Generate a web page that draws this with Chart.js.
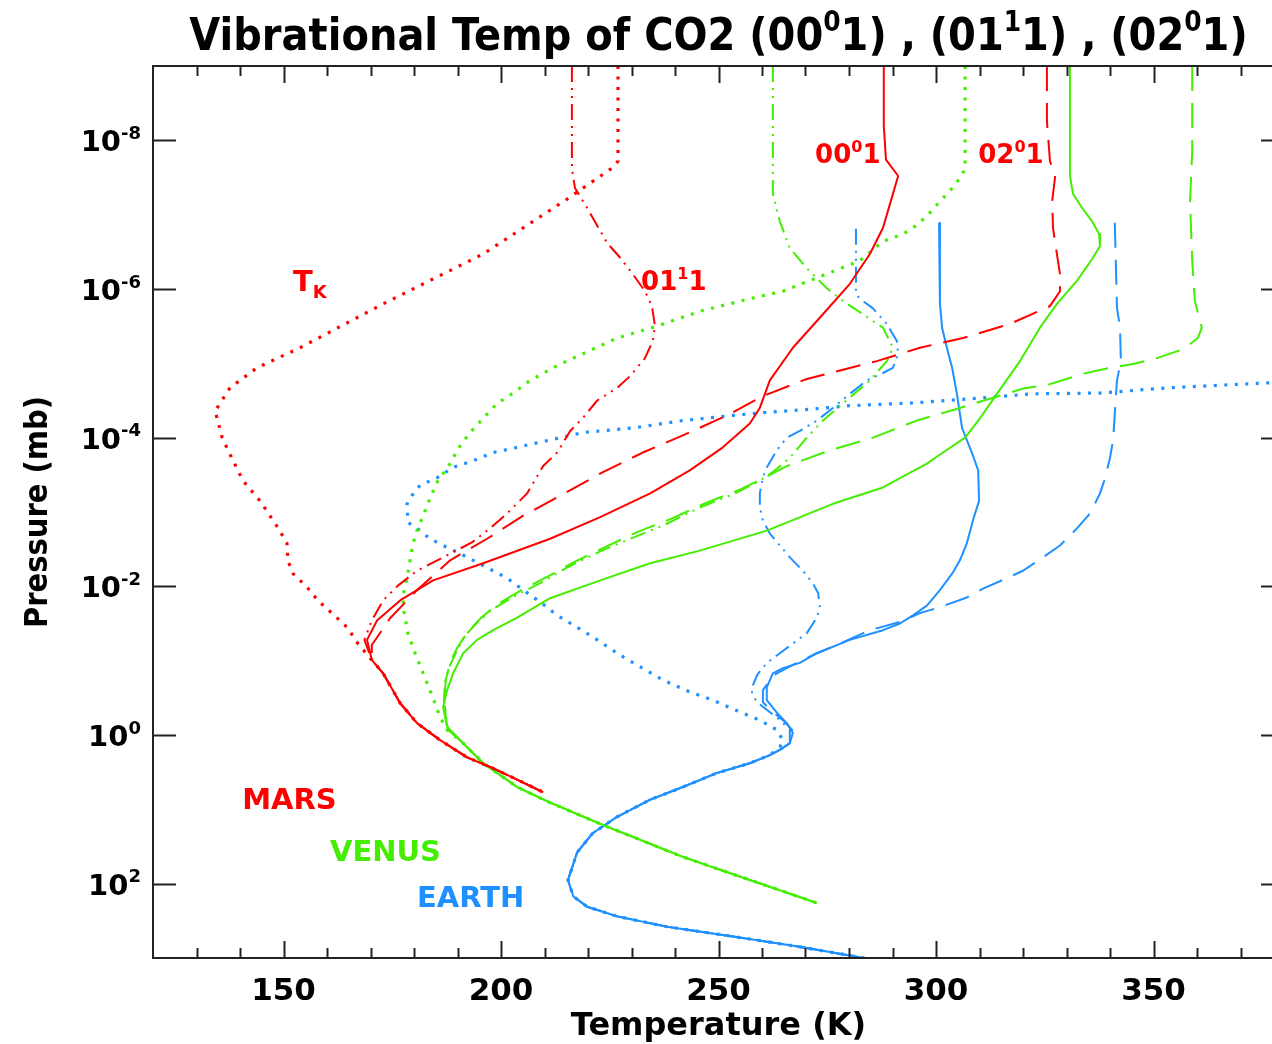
<!DOCTYPE html>
<html>
<head>
<meta charset="utf-8">
<title>Vibrational Temp of CO2</title>
<script src="https://cdn.jsdelivr.net/npm/chart.js@4.4.1/dist/chart.umd.min.js"></script>
<style>
  html, body { margin: 0; padding: 0; background: #fff; overflow: hidden; }
  #wrap { width: 1272px; height: 1044px; overflow: hidden; }
  canvas { display: block; }
</style>
</head>
<body>
<div id="wrap"><canvas id="co2Chart" width="1300" height="1044"></canvas></div>
<script>
// profiles are [temperature K, log10(pressure mb)]
const marsTk = [[226.9,-9],[226.9,-7.72],[225.1,-7.61],[218.9,-7.36],[215.2,-7.21],[195.9,-6.47],[172.9,-5.80],[153.8,-5.21],[143.9,-4.94],[137.7,-4.67],[134.3,-4.36],[135.9,-4.0],[138.4,-3.69],[140.7,-3.42],[144.6,-3.15],[148.7,-2.79],[150.8,-2.58],[151.0,-2.35],[152.2,-2.17],[155.4,-1.99],[157.9,-1.81],[161.1,-1.64],[164.6,-1.45],[167.1,-1.23]];
const mars0001 = [[288.0,-9],[288.0,-8.19],[288.5,-7.74],[291.3,-7.52],[290.1,-7.28],[287.8,-6.82],[284.8,-6.47],[280.2,-6.07],[274.0,-5.66],[267.1,-5.21],[261.8,-4.77],[259.5,-4.40],[257.2,-4.19],[251.0,-3.87],[243.4,-3.56],[234.3,-3.25],[222.8,-2.93],[211.3,-2.64],[195.9,-2.31],[184.4,-2.08],[176.8,-1.81],[171.5,-1.54],[169.2,-1.28]];
const mars0111 = [[216.3,-9],[216.3,-7.62],[217.0,-7.36],[219.8,-7.09],[224.4,-6.62],[227.4,-6.42],[230.3,-6.20],[233.1,-5.97],[234.7,-5.77],[235.4,-5.50],[234.9,-5.30],[233.1,-5.07],[229.7,-4.83],[226.7,-4.67],[222.1,-4.50],[218.9,-4.27],[215.9,-4.09],[212.9,-3.80],[209.7,-3.62],[206.0,-3.25],[201.4,-2.98],[197.5,-2.78],[193.3,-2.59],[186.7,-2.39],[180.7,-2.21],[176.3,-2.01],[172.9,-1.81],[170.3,-1.54],[168.6,-1.28]];
const mars0201 = [[325.5,-9],[325.5,-8.26],[326.2,-7.72],[327.4,-7.52],[326.7,-7.18],[326.9,-6.82],[327.8,-6.47],[328.5,-6.20],[328.5,-5.97],[326.2,-5.77],[317.0,-5.53],[306.2,-5.34],[296.3,-5.21],[286.4,-5.03],[270.3,-4.79],[260.2,-4.56],[252.0,-4.30],[241.8,-4.03],[232.6,-3.80],[223.2,-3.53],[214.0,-3.23],[205.1,-2.95],[196.8,-2.64],[188.3,-2.35],[180.7,-1.95],[174.5,-1.57],[170.3,-1.21]];
const marsLower = [[170.3,-1.01],[172.9,-0.83],[176.8,-0.43],[180.7,-0.16],[186.0,0.07],[192.2,0.30],[197.5,0.43],[203.7,0.60],[209.7,0.77]];

const venusTk = [[306.7,-9],[306.7,-7.62],[305.5,-7.49],[303.2,-7.32],[300.9,-7.18],[297.9,-6.98],[294.7,-6.82],[292.4,-6.74],[287.8,-6.64],[282.5,-6.38],[272.6,-6.15],[264.8,-5.97],[257.2,-5.87],[245.7,-5.70],[235.9,-5.50],[226.7,-5.34],[218.9,-5.13],[213.6,-4.99],[206.7,-4.77],[202.8,-4.60],[199.1,-4.46],[195.9,-4.26],[192.9,-4.07],[190.1,-3.85],[188.3,-3.65],[185.5,-3.42],[183.7,-3.19],[182.1,-2.95],[180.7,-2.75],[179.8,-2.58],[179.1,-2.35],[178.4,-2.11],[177.5,-1.88],[177.5,-1.72],[178.6,-1.37],[180.2,-1.11],[182.1,-0.83],[183.7,-0.60],[184.8,-0.43],[186.0,-0.24],[187.6,-0.07]];
const venus0001 = [[330.8,-9],[330.8,-7.52],[331.5,-7.28],[333.6,-7.09],[335.9,-6.91],[337.5,-6.74],[337.7,-6.58],[336.1,-6.42],[332.4,-6.11],[327.8,-5.80],[323.9,-5.48],[319.3,-5.03],[314.0,-4.59],[310.1,-4.26],[306.7,-4.0],[301.6,-3.80],[297.9,-3.65],[287.8,-3.33],[276.3,-3.11],[261.1,-2.75],[245.7,-2.48],[234.3,-2.31],[222.8,-2.08],[211.3,-1.84],[203.7,-1.58],[198.2,-1.41],[194.5,-1.28],[191.3,-1.10],[189.0,-0.83],[187.6,-0.60],[186.7,-0.38],[187.6,-0.11]];
const venus0111 = [[262.5,-9],[262.5,-7.28],[264.1,-6.91],[266.4,-6.55],[270.3,-6.28],[274.9,-6.01],[278.6,-5.84],[283.2,-5.66],[287.8,-5.48],[290.1,-5.21],[288.7,-5.03],[284.8,-4.77],[278.6,-4.46],[274.0,-4.23],[270.3,-4.0],[266.4,-3.73],[263.0,-3.56],[259.5,-3.42],[253.8,-3.25],[245.7,-3.06],[237.7,-2.83],[229.7,-2.64],[222.8,-2.47],[215.4,-2.26],[209.2,-2.05],[203.2,-1.87],[197.7,-1.68],[194.3,-1.50],[191.5,-1.32],[189.7,-1.11],[188.3,-0.94],[187.1,-0.71],[186.9,-0.47],[187.4,-0.24],[187.8,-0.07]];
const venus0201 = [[358.9,-9],[358.9,-7.85],[358.4,-7.18],[358.9,-6.38],[359.5,-5.84],[360.7,-5.57],[361.1,-5.48],[360.2,-5.34],[356.8,-5.19],[350.8,-5.07],[345.3,-4.99],[339.3,-4.93],[333.8,-4.86],[326.2,-4.72],[320.0,-4.66],[305.5,-4.40],[295.6,-4.23],[285.5,-4.0],[275.6,-3.83],[265.8,-3.62],[261.2,-3.48],[255.3,-3.31],[247.4,-3.13],[239.2,-2.91],[231.3,-2.73],[224.4,-2.54],[216.9,-2.33],[210.7,-2.13],[204.7,-1.95],[199.2,-1.76],[195.5,-1.58],[192.4,-1.39],[190.0,-1.18],[188.3,-0.98],[187.3,-0.74],[187.0,-0.47],[187.3,-0.24],[187.8,-0.07]];
const venusLower = [[191.3,0.11],[195.9,0.38],[203.7,0.70],[211.3,0.91],[223.4,1.21],[241.8,1.64],[257.2,1.95],[272.6,2.26]];

const earthTk = [[381.4,-4.77],[377.2,-4.74],[353.1,-4.67],[337.7,-4.60],[322.3,-4.59],[307.1,-4.52],[295.6,-4.47],[280.2,-4.43],[272.6,-4.39],[261.1,-4.34],[253.3,-4.30],[241.8,-4.23],[230.3,-4.13],[218.9,-4.07],[212.9,-3.99],[208.3,-3.93],[203.7,-3.87],[198.2,-3.80],[193.6,-3.69],[189.0,-3.60],[185.3,-3.46],[181.4,-3.36],[179.5,-3.22],[178.4,-3.11],[178.6,-2.86],[180.7,-2.78],[183.7,-2.64],[186.7,-2.55],[190.6,-2.44],[195.9,-2.28],[201.4,-2.11],[205.1,-1.95],[209.0,-1.79],[212.9,-1.61],[216.6,-1.48],[221.1,-1.32],[226.7,-1.10],[231.3,-0.94],[237.2,-0.74],[243.4,-0.58],[248.7,-0.47],[254.9,-0.31],[259.5,-0.20],[263.4,-0.07],[264.8,0.07],[264.1,0.16]];
const earth0001 = [[300.7,-6.89],[300.9,-5.81],[301.4,-5.48],[302.5,-5.21],[303.7,-4.94],[304.8,-4.59],[306.0,-4.13],[308.3,-3.79],[309.7,-3.56],[309.9,-3.15],[308.5,-2.89],[307.1,-2.58],[305.5,-2.35],[303.7,-2.17],[300.9,-1.95],[297.9,-1.74],[294.7,-1.61],[291.7,-1.50],[287.8,-1.41],[280.2,-1.28],[272.6,-1.10],[268.7,-0.97],[264.8,-0.90],[262.5,-0.83],[261.1,-0.64],[261.1,-0.47],[263.4,-0.30],[265.7,-0.16],[267.1,-0.03],[266.4,0.11],[264.1,0.20]];
const earth0111 = [[281.6,-6.81],[281.6,-5.93],[282.5,-5.87],[285.5,-5.74],[288.7,-5.53],[291.0,-5.30],[291.3,-5.13],[290.1,-4.94],[287.8,-4.87],[284.1,-4.77],[280.2,-4.59],[276.3,-4.40],[272.6,-4.23],[268.7,-4.09],[265.7,-4.0],[263.4,-3.83],[261.1,-3.60],[260.2,-3.46],[259.5,-3.25],[259.5,-3.06],[260.2,-2.89],[261.8,-2.71],[264.1,-2.55],[266.4,-2.39],[269.4,-2.21],[271.7,-2.04],[272.9,-1.91],[273.3,-1.72],[272.6,-1.58],[270.3,-1.37],[267.1,-1.23],[264.1,-1.10],[261.1,-0.97],[258.9,-0.81],[257.7,-0.64],[257.7,-0.56],[258.9,-0.44],[261.1,-0.34],[264.1,-0.20],[266.4,-0.07],[266.4,0.11],[264.1,0.20]];
const earth0201 = [[341.1,-6.89],[341.6,-5.75],[342.3,-5.48],[342.5,-5.03],[341.6,-4.77],[341.1,-4.32],[340.7,-3.96],[340.0,-3.73],[338.9,-3.46],[337.7,-3.25],[335.4,-2.98],[332.4,-2.78],[328.5,-2.55],[324.6,-2.39],[320.0,-2.21],[316.3,-2.11],[310.8,-1.97],[307.1,-1.85],[300.9,-1.72],[296.3,-1.64],[291.7,-1.52],[284.8,-1.41],[277.2,-1.21],[272.6,-1.10],[268.0,-0.97],[263.4,-0.83],[261.8,-0.74],[260.2,-0.60],[260.2,-0.44],[262.5,-0.31],[264.8,-0.20],[266.9,-0.07],[266.4,0.11],[264.1,0.20]];
const earthLower = [[261.8,0.27],[257.2,0.38],[249.7,0.51],[241.8,0.70],[234.3,0.87],[226.7,1.10],[221.1,1.32],[217.5,1.58],[215.4,1.95],[216.6,2.17],[219.8,2.31],[226.7,2.44],[238.2,2.58],[253.3,2.71],[268.7,2.85],[285.5,3.02]];

// axis ticks
const xTickLabels = [150, 200, 250, 300, 350];
const yTickExps = [-8, -6, -4, -2, 0, 2];

const RED = "#ff0000";
const GREEN = "#44ee00";
const BLUE = "#1e90ff";

// line style per mode
const STYLE = {
  tk:   { borderWidth: 3.2, borderDash: [3, 7.5] },
  v001: { borderWidth: 2, borderDash: [] },
  v011: { borderWidth: 2, borderDash: [16, 6, 2, 6, 2, 6] },
  v201: { borderWidth: 2, borderDash: [25, 12] }
};

function toXY(rows) {
  return rows.map(([t, lp]) => ({ x: t, y: Math.pow(10, lp) }));
}

function profile(label, rows, color, mode) {
  return {
    label,
    data: toXY(rows),
    showLine: true,
    fill: false,
    borderColor: color,
    backgroundColor: color,
    pointRadius: 0,
    borderCapStyle: "butt",
    borderJoinStyle: "round",
    ...STYLE[mode]
  };
}

const datasets = [
  profile("Mars Tk", marsTk.concat(marsLower), RED, "tk"),
  profile("Mars 0001", mars0001.concat(marsLower), RED, "v001"),
  profile("Mars 0111", mars0111.concat(marsLower), RED, "v011"),
  profile("Mars 0201", mars0201.concat(marsLower), RED, "v201"),
  profile("Venus Tk", venusTk.concat(venusLower), GREEN, "tk"),
  profile("Venus 0001", venus0001.concat(venusLower), GREEN, "v001"),
  profile("Venus 0111", venus0111.concat(venusLower), GREEN, "v011"),
  profile("Venus 0201", venus0201.concat(venusLower), GREEN, "v201"),
  profile("Earth Tk", earthTk.concat(earthLower), BLUE, "tk"),
  profile("Earth 0001", earth0001.concat(earthLower), BLUE, "v001"),
  profile("Earth 0111", earth0111.concat(earthLower), BLUE, "v011"),
  profile("Earth 0201", earth0201.concat(earthLower), BLUE, "v201")
];

// in-plot labels: [parts, T, log10 p, color, size]
const notes = [
  [[["T", 0], ["K", -1]], 152.2, -5.97, RED, 29],
  [[["00", 0], ["0", 1], ["1", 0]], 272.2, -7.69, RED, 26],
  [[["01", 0], ["1", 1], ["1", 0]], 232.2, -5.99, RED, 26],
  [[["02", 0], ["0", 1], ["1", 0]], 309.7, -7.69, RED, 26],
  [[["MARS", 0]], 140.5, 1.0, RED, 29],
  [[["VENUS", 0]], 160.7, 1.70, GREEN, 29],
  [[["EARTH", 0]], 180.7, 2.32, BLUE, 29]
];

const FONT = '"DejaVu Sans", "Liberation Sans", sans-serif';

// draws text with superscript (1) / subscript (-1) pieces; sy stretches glyphs vertically
function drawRich(ctx, parts, x, y, size, align, sy = 1) {
  const fontFor = m => "bold " + (m ? Math.round(size * 0.62) : size) + "px " + FONT;
  let total = 0;
  parts.forEach(([t, m]) => { ctx.font = fontFor(m); total += ctx.measureText(t).width; });
  let cx = align === "center" ? x - total / 2 : align === "right" ? x - total : x;
  ctx.save();
  ctx.translate(0, y);
  ctx.scale(1, sy);
  ctx.textAlign = "left";
  ctx.textBaseline = "alphabetic";
  parts.forEach(([t, m]) => {
    ctx.font = fontFor(m);
    const dy = m === 1 ? -size * 0.42 : m === -1 ? size * 0.22 : 0;
    ctx.fillText(t, cx, dy);
    cx += ctx.measureText(t).width;
  });
  ctx.restore();
}

const framePlugin = {
  id: "frame",
  afterDatasetsDraw(chart) {
    const { ctx, chartArea: a, scales: { x, y } } = chart;
    const seg = (x1, y1, x2, y2) => { ctx.beginPath(); ctx.moveTo(x1, y1); ctx.lineTo(x2, y2); ctx.stroke(); };
    ctx.save();
    ctx.strokeStyle = "#222";
    ctx.lineWidth = 2;
    ctx.strokeRect(a.left, a.top, a.right - a.left, a.bottom - a.top);
    for (let t = x.min + 10; t < x.max; t += 10) {
      const px = Math.round(x.getPixelForValue(t)) + 0.5;
      const len = xTickLabels.includes(t) ? 17 : 10;
      seg(px, a.bottom, px, a.bottom - len);
      seg(px, a.top, px, a.top + len);
    }
    yTickExps.forEach(e => {
      const py = Math.round(y.getPixelForValue(Math.pow(10, e))) + 0.5;
      seg(a.left, py, a.left + 23, py);
      seg(a.right, py, a.right - 23, py);
    });
    ctx.restore();
  },
  afterDraw(chart) {
    const { ctx, chartArea: a, scales: { x, y } } = chart;
    const mid = (a.left + a.right) / 2;
    ctx.save();
    ctx.fillStyle = "#000";
    drawRich(ctx, [["Vibrational Temp of CO2 (00", 0], ["0", 1], ["1) , (01", 0], ["1", 1], ["1) , (02", 0], ["0", 1], ["1)", 0]], mid, 50, 40, "center", 1.12);

    xTickLabels.forEach(t => drawRich(ctx, [[String(t), 0]], x.getPixelForValue(t), a.bottom + 42, 31, "center"));
    yTickExps.forEach(e => {
      const py = y.getPixelForValue(Math.pow(10, e));
      drawRich(ctx, [["10", 0], [String(e), 1]], a.left - 12, py + 11, 29, "right");
    });

    drawRich(ctx, [["Temperature (K)", 0]], mid, 1035, 32, "center");
    ctx.save();
    ctx.translate(47, (a.top + a.bottom) / 2);
    ctx.rotate(-Math.PI / 2);
    drawRich(ctx, [["Pressure (mb)", 0]], 0, 0, 29, "center", 1.1);
    ctx.restore();

    notes.forEach(([parts, t, lp, color, size]) => {
      ctx.fillStyle = color;
      drawRich(ctx, parts, x.getPixelForValue(t), y.getPixelForValue(Math.pow(10, lp)), size, "left");
    });
    ctx.restore();
  }
};

new Chart(document.getElementById("co2Chart"), {
  type: "scatter",
  data: { datasets },
  options: {
    responsive: false,
    animation: false,
    events: [],
    layout: { padding: { left: 153, top: 66, right: 16, bottom: 86 } },
    plugins: {
      legend: { display: false },
      tooltip: { enabled: false },
      title: { display: false }
    },
    scales: {
      x: { type: "linear", min: 120, max: 380, display: false },
      y: { type: "logarithmic", min: 1e-9, max: 1e3, reverse: true, display: false }
    },
    elements: { line: { tension: 0 } }
  },
  plugins: [framePlugin]
});
</script>
</body>
</html>
